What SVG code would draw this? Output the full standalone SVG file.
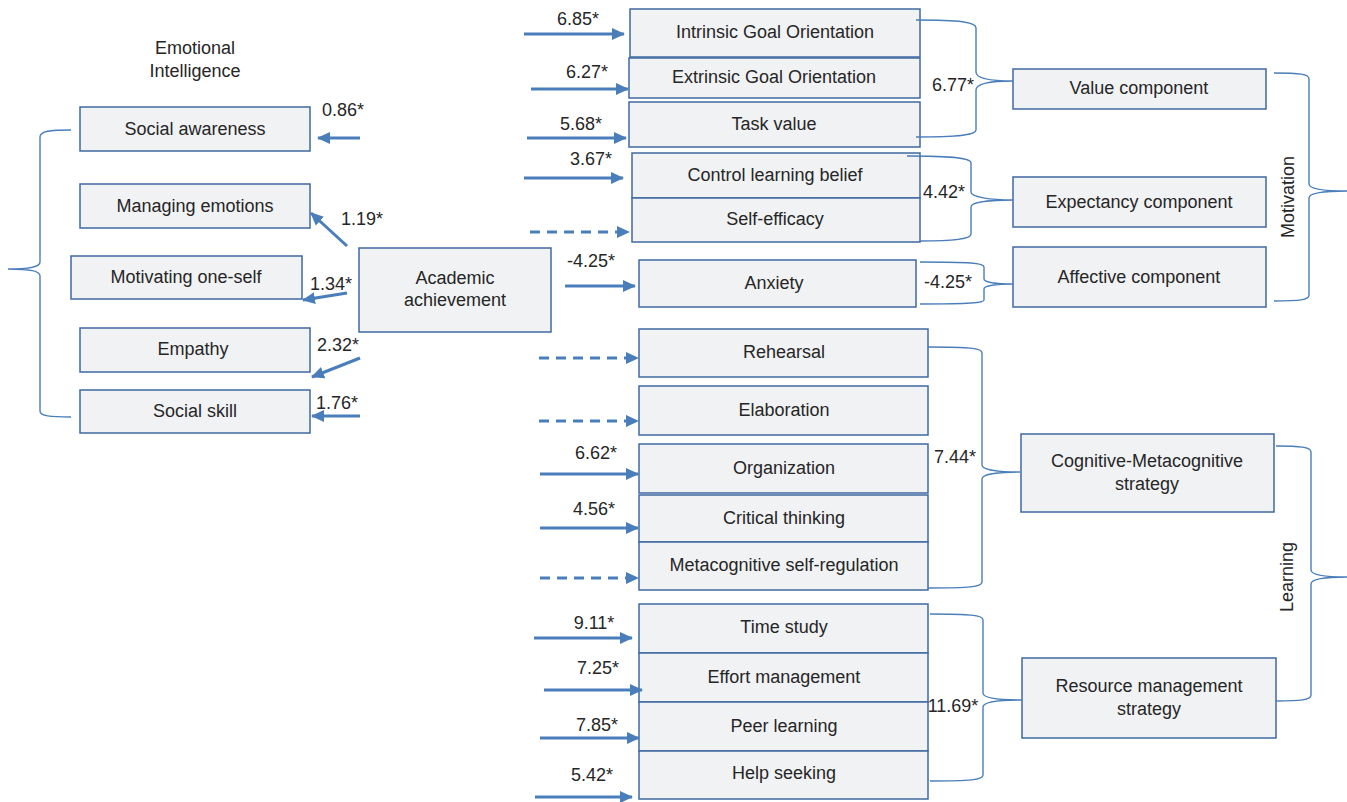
<svg xmlns="http://www.w3.org/2000/svg" width="1347" height="802" viewBox="0 0 1347 802">
<style>
.box{fill:#f1f2f4;stroke:#3f69a1;stroke-width:1.5}
.t{font-family:"Liberation Sans",Arial,sans-serif;font-size:18px;fill:#262626;text-anchor:middle}
.arr{stroke:#4a7ebb;stroke-width:3;fill:none;marker-end:url(#ah)}
.dash{stroke-dasharray:10 7}
.br{stroke:#4a7ebb;stroke-width:1.4;fill:none}
</style>
<defs>
<marker id="ah" markerUnits="userSpaceOnUse" markerWidth="14" markerHeight="14" viewBox="0 0 14 14" refX="12" refY="7" orient="auto">
<path d="M0,1 L13,7 L0,13 z" fill="#4a7ebb"/>
</marker>
</defs>
<rect width="1347" height="802" fill="#ffffff"/>

<g id="label-emotional-intelligence">
<text class="t" x="195" y="54">Emotional</text>
<text class="t" x="195" y="77">Intelligence</text>
</g>
<g id="label-motivation"><text class="t" transform="translate(1294,197) rotate(-90)">Motivation</text></g>
<g id="label-learning"><text class="t" transform="translate(1293,577) rotate(-90)">Learning</text></g>

<g id="social-awareness"><rect class="box" x="80" y="107" width="230" height="44"/><text class="t" x="195" y="135">Social awareness</text></g>
<g id="managing-emotions"><rect class="box" x="80" y="184" width="230" height="44"/><text class="t" x="195" y="212">Managing emotions</text></g>
<g id="motivating-one-self"><rect class="box" x="71" y="256" width="231" height="43"/><text class="t" x="186" y="283">Motivating one-self</text></g>
<g id="empathy"><rect class="box" x="80" y="328" width="230" height="44"/><text class="t" x="193" y="355">Empathy</text></g>
<g id="social-skill"><rect class="box" x="80" y="390" width="230" height="43"/><text class="t" x="195" y="417">Social skill</text></g>
<g id="academic-achievement"><rect class="box" x="359" y="248" width="192" height="84"/><text class="t" x="455" y="284">Academic</text><text class="t" x="455" y="306">achievement</text></g>

<g id="intrinsic-goal-orientation"><rect class="box" x="630" y="9" width="290" height="48"/><text class="t" x="775" y="38">Intrinsic Goal Orientation</text></g>
<g id="extrinsic-goal-orientation"><rect class="box" x="629" y="58" width="291" height="40"/><text class="t" x="774" y="83">Extrinsic Goal Orientation</text></g>
<g id="task-value"><rect class="box" x="629" y="102" width="291" height="45"/><text class="t" x="774" y="130">Task value</text></g>
<g id="control-learning-belief"><rect class="box" x="632" y="153" width="288" height="45"/><text class="t" x="775" y="181">Control learning belief</text></g>
<g id="self-efficacy"><rect class="box" x="632" y="198" width="288" height="44"/><text class="t" x="775" y="225">Self-efficacy</text></g>
<g id="anxiety"><rect class="box" x="639" y="260" width="277" height="47"/><text class="t" x="774" y="289">Anxiety</text></g>

<g id="value-component"><rect class="box" x="1013" y="69" width="253" height="40"/><text class="t" x="1139" y="94">Value component</text></g>
<g id="expectancy-component"><rect class="box" x="1013" y="177" width="253" height="50"/><text class="t" x="1139" y="208">Expectancy component</text></g>
<g id="affective-component"><rect class="box" x="1013" y="247" width="253" height="60"/><text class="t" x="1139" y="283">Affective component</text></g>

<g id="rehearsal"><rect class="box" x="639" y="329" width="289" height="48"/><text class="t" x="784" y="358">Rehearsal</text></g>
<g id="elaboration"><rect class="box" x="639" y="386" width="289" height="49"/><text class="t" x="784" y="416">Elaboration</text></g>
<g id="organization"><rect class="box" x="639" y="444" width="289" height="49"/><text class="t" x="784" y="474">Organization</text></g>
<g id="critical-thinking"><rect class="box" x="639" y="495" width="289" height="47"/><text class="t" x="784" y="524">Critical thinking</text></g>
<g id="metacognitive-self-regulation"><rect class="box" x="639" y="542" width="289" height="48"/><text class="t" x="784" y="571">Metacognitive self-regulation</text></g>

<g id="time-study"><rect class="box" x="639" y="604" width="289" height="49"/><text class="t" x="784" y="633">Time study</text></g>
<g id="effort-management"><rect class="box" x="639" y="653" width="289" height="49"/><text class="t" x="784" y="683">Effort management</text></g>
<g id="peer-learning"><rect class="box" x="639" y="702" width="289" height="49"/><text class="t" x="784" y="732">Peer learning</text></g>
<g id="help-seeking"><rect class="box" x="639" y="751" width="289" height="48"/><text class="t" x="784" y="779">Help seeking</text></g>

<g id="cognitive-metacognitive-strategy"><rect class="box" x="1021" y="434" width="253" height="78"/><text class="t" x="1147" y="467">Cognitive-Metacognitive</text><text class="t" x="1147" y="490">strategy</text></g>
<g id="resource-management-strategy"><rect class="box" x="1022" y="658" width="254" height="80"/><text class="t" x="1149" y="692">Resource management</text><text class="t" x="1149" y="715">strategy</text></g>

<g id="connectors">
<line class="arr" x1="360" y1="138" x2="318" y2="138"/>
<line class="arr" x1="347" y1="246" x2="311" y2="213"/>
<line class="arr" x1="347" y1="293" x2="303" y2="300"/>
<line class="arr" x1="360" y1="358" x2="312" y2="377"/>
<line class="arr" x1="360" y1="416" x2="312" y2="416"/>

<line class="arr" x1="524" y1="34" x2="624" y2="34"/>
<line class="arr" x1="531" y1="89" x2="628" y2="89"/>
<line class="arr" x1="527" y1="138" x2="626" y2="138"/>
<line class="arr" x1="524" y1="178" x2="623" y2="178"/>
<line class="arr dash" x1="530" y1="232" x2="629" y2="232"/>
<line class="arr" x1="565" y1="286" x2="635" y2="286"/>
<line class="arr dash" x1="539" y1="358" x2="638" y2="358"/>
<line class="arr dash" x1="539" y1="421" x2="638" y2="421"/>
<line class="arr" x1="540" y1="474" x2="638" y2="474"/>
<line class="arr" x1="540" y1="528" x2="638" y2="528"/>
<line class="arr dash" x1="540" y1="578" x2="638" y2="578"/>
<line class="arr" x1="534" y1="638" x2="632" y2="638"/>
<line class="arr" x1="544" y1="690" x2="642" y2="690"/>
<line class="arr" x1="540" y1="738" x2="639" y2="738"/>
<line class="arr" x1="535" y1="797" x2="632" y2="797"/>

<path class="br" d="M71,130 C50,130 40,131 40,137 L40,262 C40,267 30,269 8,269 C30,269 40,271 40,276 L40,411 C40,416 50,417 71,417"/>
<path class="br" d="M916,20 C960,20 976,22 976,28 L976,72 C976,78 990,81 1013,81 C990,81 976,84 976,90 L976,130 C976,135 960,137 916,137"/>
<path class="br" d="M907,156 C955,156 971,158 971,163 L971,192 C971,197 990,200 1013,200 C990,200 971,202 971,207 L971,234 C971,239 955,241 920,241"/>
<path class="br" d="M920,262 C970,262 984,263 984,267 L984,279 C984,282 995,284 1013,284 C995,284 984,286 984,289 L984,300 C984,303 970,304 920,304"/>
<path class="br" d="M1274,73 C1300,73 1309,74 1309,79 L1309,184 C1309,189 1325,191 1347,191 C1325,191 1309,193 1309,198 L1309,295 C1309,300 1300,301 1274,301"/>
<path class="br" d="M928,347 C970,347 982,348 982,353 L982,465 C982,470 1000,472 1020,472 C1000,472 982,474 982,479 L982,582 C982,587 970,588 928,588"/>
<path class="br" d="M930,614 C970,614 983,615 983,620 L983,693 C983,698 1000,700 1022,700 C1000,700 983,702 983,707 L983,775 C983,780 970,781 930,781"/>
<path class="br" d="M1276,446 C1300,446 1311,447 1311,452 L1311,570 C1311,575 1325,577 1347,577 C1325,577 1311,579 1311,584 L1311,695 C1311,700 1300,701 1276,701"/>

<text class="t" x="343" y="116">0.86*</text>
<text class="t" x="362" y="225">1.19*</text>
<text class="t" x="331" y="290">1.34*</text>
<text class="t" x="338" y="351">2.32*</text>
<text class="t" x="337" y="409">1.76*</text>

<text class="t" x="578" y="25">6.85*</text>
<text class="t" x="587" y="78">6.27*</text>
<text class="t" x="581" y="130">5.68*</text>
<text class="t" x="591" y="165">3.67*</text>
<text class="t" x="591" y="267">-4.25*</text>
<text class="t" x="596" y="459">6.62*</text>
<text class="t" x="594" y="515">4.56*</text>
<text class="t" x="594" y="629">9.11*</text>
<text class="t" x="598" y="674">7.25*</text>
<text class="t" x="597" y="731">7.85*</text>
<text class="t" x="592" y="781">5.42*</text>

<text class="t" x="953" y="91">6.77*</text>
<text class="t" x="944" y="198">4.42*</text>
<text class="t" x="948" y="288">-4.25*</text>
<text class="t" x="955" y="463">7.44*</text>
<text class="t" x="953" y="712">11.69*</text>
</g>
</svg>
